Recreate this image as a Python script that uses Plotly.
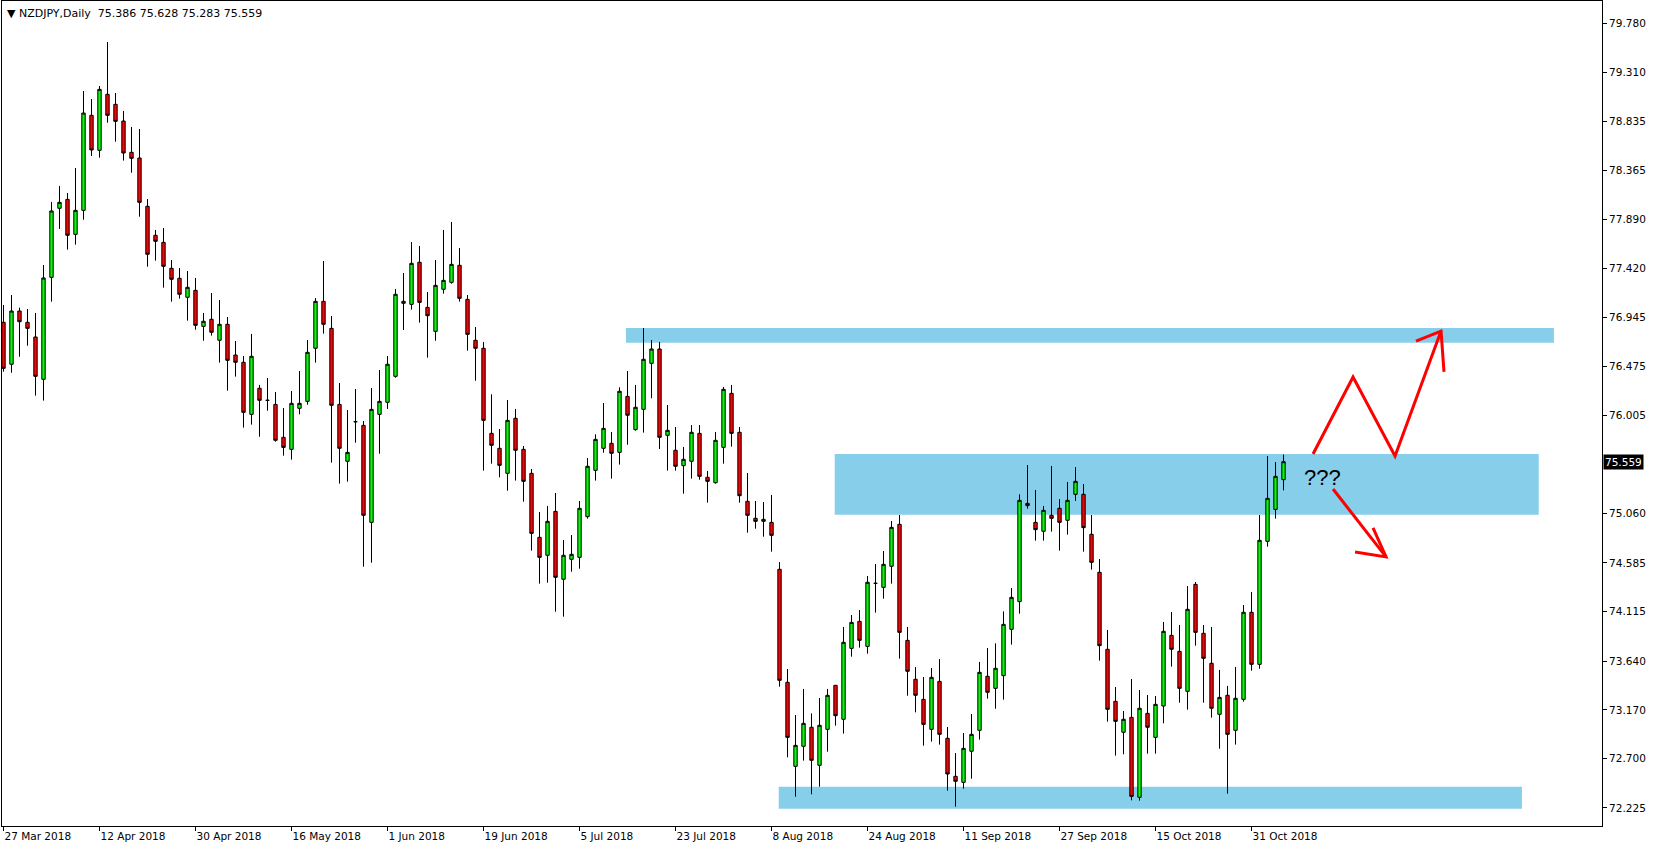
import plotly.graph_objects as go

# NZDJPY daily candles, 27 Mar 2018 .. 6 Nov 2018 (weekdays)
opens = [76.901, 76.497, 77.010, 76.901, 76.760, 76.352, 77.334, 77.999, 78.085, 77.748,
         77.979, 78.894, 78.557, 79.096, 79.000, 78.839, 78.538, 78.483, 78.018, 77.739,
         77.671, 77.421, 77.325, 77.142, 77.209, 76.862, 76.930, 76.728, 76.882, 76.586,
         76.516, 76.015, 76.266, 76.150, 76.111, 75.794, 75.678, 76.073, 76.140, 76.651,
         77.103, 76.843, 76.111, 75.563, 75.944, 75.909, 74.975, 76.015, 76.131, 76.381,
         77.084, 77.074, 77.479, 77.045, 76.814, 77.219, 77.286, 77.450, 77.122, 76.728,
         76.651, 75.832, 75.688, 75.447, 75.977, 75.678, 75.447, 74.831, 74.658, 75.081,
         74.427, 74.619, 74.638, 75.030, 75.476, 75.688, 75.736, 75.649, 76.188, 75.868,
         76.063, 76.506, 76.644, 75.813, 75.669, 75.521, 75.563, 75.832, 75.409, 75.357,
         75.697, 76.217, 75.842, 75.178, 75.014, 74.985, 74.975, 74.523, 73.435, 72.626,
         72.819, 73.002, 72.636, 72.982, 73.406, 73.079, 73.762, 74.022, 73.781, 74.388,
         74.349, 74.552, 74.956, 73.839, 73.464, 73.271, 72.982, 73.444, 72.896, 72.530,
         72.472, 72.771, 72.973, 73.493, 73.377, 73.499, 73.945, 74.212, 75.158, 74.975,
         74.889, 75.043, 75.110, 74.995, 75.245, 75.245, 74.860, 74.494, 73.753, 73.252,
         72.954, 73.098, 72.328, 73.136, 72.905, 73.207, 73.887, 73.733, 73.348, 74.378,
         73.907, 73.618, 73.127, 73.310, 72.973, 73.271, 74.109, 73.608, 74.792, 75.100,
         75.386]
highs = [77.068, 77.164, 77.042, 77.029, 76.991, 77.453, 78.060, 78.214, 78.146, 78.387,
         79.128, 79.051, 79.176, 79.600, 79.109, 78.936, 78.782, 78.762, 78.088, 77.790,
         77.809, 77.501, 77.424, 77.395, 77.328, 76.991, 77.183, 77.116, 76.952, 76.721,
         76.577, 76.789, 76.298, 76.365, 76.230, 76.076, 76.240, 76.432, 76.731, 77.135,
         77.491, 76.962, 76.317, 76.057, 76.259, 75.951, 76.269, 76.442, 76.577, 77.222,
         77.376, 77.674, 77.636, 77.193, 77.501, 77.790, 77.867, 77.617, 77.164, 76.856,
         76.711, 76.208, 75.874, 76.153, 76.067, 75.710, 75.489, 75.075, 75.133, 75.258,
         74.805, 74.853, 75.181, 75.595, 75.823, 76.124, 75.845, 76.275, 76.432, 76.298,
         76.846, 76.731, 76.712, 76.105, 75.893, 75.701, 75.912, 75.912, 75.470, 75.845,
         76.278, 76.298, 75.893, 75.450, 75.181, 75.171, 75.239, 74.593, 73.563, 73.120,
         73.371, 73.136, 73.284, 73.371, 73.410, 73.968, 74.083, 74.131, 74.459, 74.574,
         74.699, 74.988, 75.046, 73.968, 73.582, 73.486, 73.573, 73.659, 73.005, 72.754,
         72.947, 73.130, 73.631, 73.765, 73.810, 74.118, 74.343, 75.245, 75.527, 75.287,
         75.133, 75.518, 75.200, 75.364, 75.508, 75.344, 75.046, 74.622, 73.939, 73.390,
         73.159, 73.467, 73.361, 73.313, 73.303, 74.016, 74.112, 73.987, 74.362, 74.401,
         73.987, 73.968, 73.554, 73.400, 73.583, 74.179, 74.305, 75.046, 75.614, 75.556,
         75.628]
lows = [76.426, 76.416, 76.570, 76.676, 76.195, 76.147, 77.100, 77.800, 77.601, 77.649,
        77.889, 78.502, 78.486, 78.823, 78.640, 78.458, 78.342, 77.918, 77.437, 77.495,
        77.235, 77.100, 77.129, 76.917, 76.830, 76.724, 76.773, 76.513, 76.243, 76.378,
        75.887, 75.916, 75.800, 76.050, 75.752, 75.617, 75.579, 76.015, 76.108, 76.513,
        76.792, 75.550, 75.348, 75.367, 75.742, 74.548, 74.587, 75.636, 76.067, 76.368,
        76.827, 77.023, 76.898, 76.561, 76.724, 77.177, 77.273, 77.100, 76.628, 76.339,
        75.473, 75.540, 75.409, 75.280, 75.377, 75.174, 74.703, 74.385, 74.394, 74.115,
        74.067, 74.500, 74.529, 75.011, 75.377, 75.646, 75.396, 75.531, 75.723, 75.858,
        75.839, 76.170, 75.681, 75.473, 75.473, 75.251, 75.396, 75.386, 75.165, 75.348,
        75.540, 75.704, 75.165, 74.876, 74.914, 74.837, 74.693, 73.393, 72.713, 72.334,
        72.681, 72.357, 72.430, 72.767, 73.018, 72.941, 73.682, 73.769, 73.711, 74.106,
        74.240, 74.385, 73.663, 73.306, 73.146, 72.825, 72.864, 72.835, 72.392, 72.238,
        72.411, 72.507, 72.883, 73.278, 73.181, 73.268, 73.798, 74.096, 75.107, 74.799,
        74.799, 74.886, 74.703, 74.857, 75.181, 74.693, 74.520, 73.644, 73.056, 72.729,
        72.742, 72.299, 72.296, 72.748, 72.748, 73.040, 73.586, 73.239, 73.172, 73.788,
        73.239, 73.095, 72.796, 72.363, 72.835, 73.249, 73.547, 73.566, 74.741, 75.011,
        75.283]
closes = [76.458, 77.010, 76.907, 76.843, 76.381, 77.328, 77.973, 78.056, 77.739, 77.979,
          78.916, 78.560, 79.144, 78.894, 78.836, 78.531, 78.480, 78.056, 77.556, 77.681,
          77.440, 77.315, 77.171, 77.238, 76.872, 76.911, 76.805, 76.882, 76.535, 76.516,
          76.034, 76.574, 76.150, 76.150, 75.765, 75.697, 76.121, 76.121, 76.612, 77.103,
          76.882, 76.102, 75.688, 75.649, 75.944, 75.043, 76.063, 76.140, 76.497, 77.171,
          77.103, 77.469, 77.093, 76.965, 77.257, 77.305, 77.459, 77.132, 76.785, 76.651,
          75.957, 75.717, 75.524, 75.957, 75.669, 75.370, 74.869, 74.638, 74.985, 74.446,
          74.658, 74.667, 75.110, 75.515, 75.774, 75.880, 75.640, 76.237, 76.006, 76.083,
          76.545, 76.644, 75.794, 75.861, 75.515, 75.582, 75.842, 75.418, 75.370, 75.765,
          76.256, 75.832, 75.232, 75.043, 74.985, 75.004, 74.850, 73.454, 72.905, 72.828,
          73.040, 72.684, 73.021, 73.310, 73.114, 73.820, 74.012, 73.839, 74.398, 74.388,
          74.571, 74.927, 73.916, 73.541, 73.310, 73.030, 73.483, 72.934, 72.552, 72.482,
          72.799, 72.934, 73.531, 73.339, 73.570, 73.993, 74.253, 75.187, 75.136, 74.905,
          75.091, 75.014, 74.975, 75.187, 75.370, 74.924, 74.590, 73.788, 73.175, 73.059,
          73.079, 72.337, 73.185, 73.002, 73.223, 73.926, 73.753, 73.377, 74.138, 73.916,
          73.666, 73.185, 73.290, 72.934, 73.281, 74.109, 73.608, 74.802, 75.206, 75.418,
          75.559]

# x-axis labels (candle position, text)
xtick_pos = [0, 12, 24, 36, 48, 60, 72, 84, 96, 108, 120, 132, 144, 156]
xtick_text = ["27 Mar 2018", "12 Apr 2018", "30 Apr 2018", "16 May 2018", "1 Jun 2018",
              "19 Jun 2018", "5 Jul 2018", "23 Jul 2018", "8 Aug 2018", "24 Aug 2018",
              "11 Sep 2018", "27 Sep 2018", "15 Oct 2018", "31 Oct 2018"]
# price-axis labels
ytick_vals = [79.780, 79.310, 78.835, 78.365, 77.890, 77.420, 76.945, 76.475, 76.005,
              75.060, 74.585, 74.115, 73.640, 73.170, 72.700, 72.225]

last_price = 75.559
header = "▼ NZDJPY,Daily  75.386 75.628 75.283 75.559"

# zones (x from/to in candle positions, price from/to)
zones = [
    (77.8, 193.8, 76.705, 76.846),
    (103.9, 191.9, 75.049, 75.633),
    (96.9, 189.8, 72.218, 72.430),
]

x = list(range(len(opens)))

fig = go.Figure(go.Candlestick(
    x=x, open=opens, high=highs, low=lows, close=closes,
    increasing=dict(fillcolor="#00ff00", line=dict(color="black", width=1)),
    decreasing=dict(fillcolor="#ff0000", line=dict(color="black", width=1)),
    whiskerwidth=0, showlegend=False, hoverinfo="skip",
))

shapes = []
for x0, x1, y0, y1 in zones:
    shapes.append(dict(type="rect", xref="x", yref="y", x0=x0, x1=x1, y0=y0, y1=y1,
                       fillcolor="#87ceeb", line=dict(width=0), layer="below"))

red = dict(color="#ff0000", width=3)
# up scenario zig-zag with arrow head
up_pts = [(163.69, 75.633), (168.69, 76.375), (173.94, 75.614), (179.69, 76.817)]
path = "M " + " L ".join(f"{a},{b}" for a, b in up_pts)
shapes.append(dict(type="path", xref="x", yref="y", path=path, line=red))
shapes.append(dict(type="path", xref="x", yref="y",
                   path="M 176.56,76.721 L 179.69,76.817 L 180.06,76.423", line=red))
# down scenario arrow
shapes.append(dict(type="path", xref="x", yref="y",
                   path="M 166.19,75.296 L 172.81,74.642", line=red))
shapes.append(dict(type="path", xref="x", yref="y",
                   path="M 168.94,74.690 L 172.81,74.642 L 171.19,74.921", line=red))

annotations = [
    dict(xref="paper", yref="paper", x=0, y=1, xanchor="left", yanchor="top",
         xshift=3, yshift=-4, text=header, showarrow=False,
         font=dict(family="DejaVu Sans", size=11, color="black")),
    dict(xref="paper", yref="y", x=1, y=last_price, xanchor="left", yanchor="middle",
         xshift=1, text=str(last_price), showarrow=False, bgcolor="black",
         borderpad=1, font=dict(family="DejaVu Sans", size=10.5, color="white")),
    dict(xref="x", yref="y", x=164.9, y=75.41, text="???", showarrow=False,
         font=dict(family="Liberation Sans", size=22, color="black")),
]

fig.update_layout(
    width=1656, height=850, autosize=False,
    margin=dict(l=2, r=54, t=1, b=24, pad=0),
    paper_bgcolor="white", plot_bgcolor="white",
    boxgap=0.4, showlegend=False,
    font=dict(family="DejaVu Sans", size=10.5, color="black"),
    shapes=shapes, annotations=annotations,
)
fig.update_xaxes(
    range=[-0.1875, 199.81], tickmode="array", tickvals=xtick_pos, ticktext=xtick_text,
    ticks="outside", ticklen=4, tickcolor="black", showline=True, linecolor="black",
    linewidth=1, mirror=True, showgrid=False, zeroline=False,
    rangeslider=dict(visible=False), ticklabelposition="outside right",
)
fig.update_yaxes(
    side="right", range=[72.0516, 79.9947], tickmode="array", tickvals=ytick_vals,
    ticktext=[f"{v:.3f}" for v in ytick_vals],
    ticks="outside", ticklen=4, tickcolor="black", showline=True, linecolor="black",
    linewidth=1, mirror=True, showgrid=False, zeroline=False,
)

fig.write_html("out.html", config={"displayModeBar": False},
               post_script="document.body.style.margin='0';")
